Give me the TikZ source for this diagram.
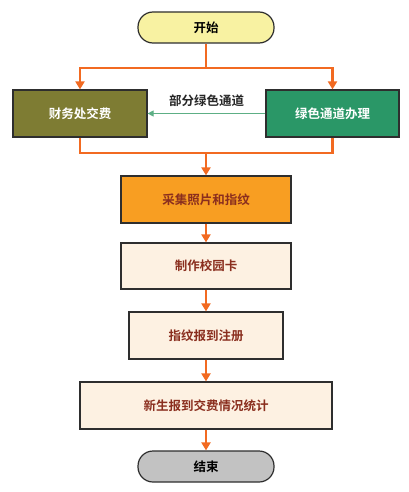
\documentclass[tikz,border=0pt]{standalone}
\usepackage{fontspec}
\newfontfamily\cjk{Noto Sans CJK SC}[BoldFont={Noto Sans CJK SC Bold}]
\usetikzlibrary{arrows.meta}
\definecolor{startfill}{HTML}{F8F2A2}
\definecolor{finfill}{HTML}{7E7C33}
\definecolor{greenfill}{HTML}{2A9767}
\definecolor{photofill}{HTML}{F89E22}
\definecolor{stepfill}{HTML}{FDF1E2}
\definecolor{endfill}{HTML}{C2C2C2}
\definecolor{flowline}{HTML}{F26A21}
\definecolor{chanline}{HTML}{5DAF85}
\definecolor{steptext}{HTML}{8A2E1E}
\definecolor{boxline}{HTML}{2E2E2E}
\tikzset{
  box/.style={draw=boxline, line width=1.2pt, minimum height=46pt, font=\cjk\bfseries\fontsize{12.5}{14}\selectfont},
  term/.style={box, rounded corners=15pt, minimum height=31pt, minimum width=136pt},
  stepbox/.style={box, fill=stepfill, text=steptext},
  flow/.style={draw=flowline, line width=2.6pt},
  flowarrow/.style={flow, -{Triangle[length=8pt,width=9pt]}},
}
\begin{document}
\begin{tikzpicture}[x=1pt,y=-1pt]
  \useasboundingbox[fill=white] (0,0) rectangle (409,492);
  \node[term, fill=startfill] (start) at (206,27.5) {开始};
  \node[box, fill=finfill, text=white, minimum width=134pt, minimum height=47pt] (fin) at (80,113.5) {财务处交费};
  \node[box, fill=greenfill, text=white, minimum width=133pt, minimum height=47pt] (green) at (332.5,113.5) {绿色通道办理};
  \node[box, fill=photofill, text=steptext, minimum width=170pt, minimum height=47pt] (photo) at (206,199.5) {采集照片和指纹};
  \node[stepbox, minimum width=170pt] (card) at (206,266) {制作校园卡};
  \node[stepbox, minimum width=154pt, minimum height=47pt] (reg) at (206,335.5) {指纹报到注册};
  \node[stepbox, minimum width=252pt, minimum height=47pt] (stat) at (206,405.5) {新生报到交费情况统计};
  \node[term, fill=endfill] (end) at (206,466.5) {结束};
  \coordinate (split) at (206,68);
  \coordinate (merge) at (206,153);
  % split into the two channels
  \draw[flow] (start) -- (split);
  \draw[flowarrow] (split) -| (fin.north);
  \draw[flowarrow] (split) -| (green.north);
  \draw[chanline, line width=1pt, -{Triangle[length=6pt,width=6pt]}] (green.west) -- (fin.east)
    node[midway, above=3pt, text=black!85, font=\cjk\bfseries\fontsize{12.5}{14}\selectfont] (chan) {部分绿色通道};
  % merge again
  \draw[flow] (fin.south) |- (merge);
  \draw[flow] (green.south) |- (merge);
  \draw[flowarrow] (merge) -- (photo);
  \draw[flowarrow] (photo) -- (card);
  \draw[flowarrow] (card) -- (reg);
  \draw[flowarrow] (reg) -- (stat);
  \draw[flowarrow] (stat) -- (end);
\end{tikzpicture}
\end{document}
